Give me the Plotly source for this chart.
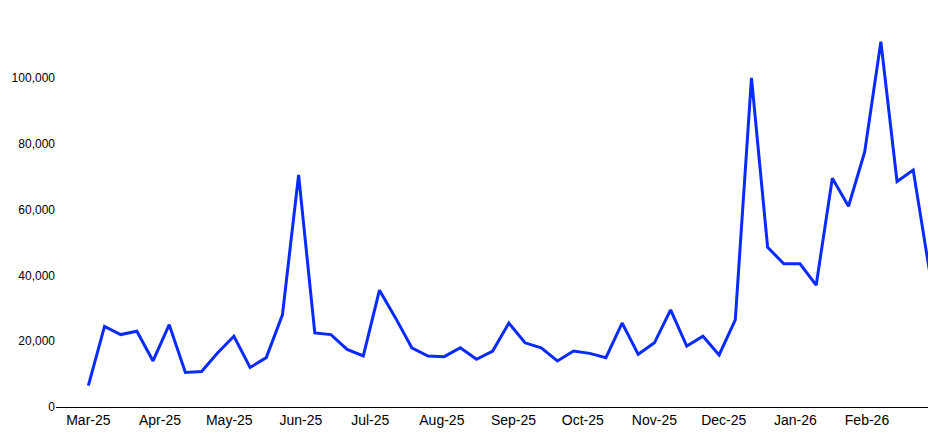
import plotly.graph_objects as go
import pandas as pd

dates = pd.date_range("2025-03-01", periods=53, freq="7D")
values = [6500, 24500, 22000, 23000, 14000, 25000, 10500, 10800, 16500, 21500, 12000, 15000,
          28000, 70500, 22500, 22000, 17500, 15500, 35500, 27000, 18000, 15500, 15300, 18000,
          14500, 17000, 25500, 19500, 18000, 14000, 17000, 16300, 15000, 25500, 16000, 19500,
          29500, 18500, 21500, 15800, 26500, 100000, 48500, 43500, 43500, 37000, 69500, 61000,
          77500, 111000, 68500, 72000, 41500]
tick_vals = pd.date_range("2025-03-01", periods=12, freq="MS")
tick_text = [d.strftime("%b-%y") for d in tick_vals]

fig = go.Figure(go.Scatter(x=dates, y=values, mode="lines",
                           line=dict(color="#0a2bff", width=3)))
fig.update_layout(
    width=936, height=435, plot_bgcolor="white", paper_bgcolor="white",
    margin=dict(l=38, r=10, t=4, b=36), showlegend=False,
    font=dict(family="Liberation Sans, Arial", size=13, color="black"),
)
fig.update_xaxes(range=["2025-02-15", "2026-03-02"], tickvals=tick_vals, ticktext=tick_text,
                 showgrid=False, showline=True, linecolor="black", linewidth=1, ticks="",
                 tickfont=dict(size=14))
fig.update_yaxes(range=[0, 120000], dtick=20000, tickformat=",", showgrid=False,
                 zeroline=False, showline=False, ticks="", tickfont=dict(size=12))
fig.write_html("out.html")
